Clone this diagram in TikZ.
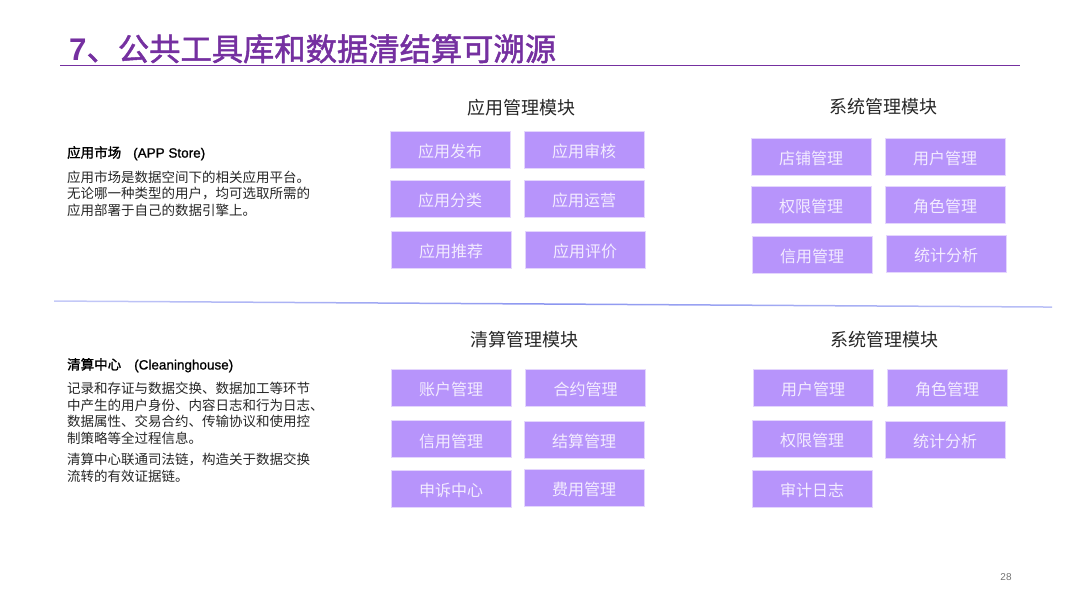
\documentclass[tikz,border=0pt]{standalone}
\usepackage{fontspec}
\setmainfont{Noto Sans CJK SC}
\newfontfamily\latinf{Liberation Sans}
\newfontfamily\titlef[FakeBold=1.6]{Noto Sans CJK SC}
\newfontfamily\headf[FakeBold=1.5]{Noto Sans CJK SC}
\newfontfamily\headlat[FakeBold=1]{Liberation Sans}
\definecolor{titlepurple}{HTML}{7530A0}
\definecolor{boxfill}{HTML}{B794FB}
\definecolor{boxedge}{HTML}{E4D6FD}
\definecolor{boxtext}{HTML}{F3ECFF}
\definecolor{darktext}{HTML}{262626}
\definecolor{divider}{HTML}{8C96F0}
\tikzset{
  modbox/.style={draw=boxedge,line width=0.8pt,fill=boxfill,text=boxtext,minimum width=120pt,minimum height=37pt,inner sep=0pt,text height=16pt,text depth=0pt,font=\fontsize{16}{16}\selectfont,anchor=center},
  modtitle/.style={text=darktext,inner sep=0pt,font=\fontsize{18}{18}\selectfont,anchor=center},
  bodytext/.style={text=darktext,inner sep=0pt,anchor=north west,align=left,font=\fontsize{13.5}{16.6}\selectfont},
  headtext/.style={text=black,inner sep=0pt,anchor=west,font=\fontsize{13.5}{16}\selectfont\headf}
}
\begin{document}
\begin{tikzpicture}[x=1pt,y=-1pt]
\useasboundingbox (0,0) rectangle (1080,608);
\node[inner sep=0pt,anchor=west,text=titlepurple,font=\fontsize{31.3}{32}\selectfont\titlef] (title) at (69,48.7) {{\latinf\bfseries 7}、公共工具库和数据清结算可溯源};
\coordinate (ruleL) at (60,65.8);
\coordinate (ruleR) at (1020,65.8);
\draw[titlepurple,line width=1pt] (ruleL) -- (ruleR);
\shade[left color=divider!50,right color=divider!60,middle color=divider] (54,300.3) -- (1052,306.3) -- (1052,307.8) -- (54,301.8) -- cycle;
% left column
\node[headtext] (h1) at (67,153.3) {应用市场\hspace{12pt}{\headlat (APP Store)}};
\node[bodytext] (b1) at (67,170.5) {应用市场是数据空间下的相关应用平台。\\无论哪一种类型的用户，均可选取所需的\\应用部署于自己的数据引擎上。};
\node[headtext] (h2) at (67,365.2) {清算中心\hspace{13pt}{\headlat (Cleaninghouse)}};
\node[bodytext] (b2) at (67,381.8) {记录和存证与数据交换、数据加工等环节\\中产生的用户身份、内容日志和行为日志、\\数据属性、交易合约、传输协议和使用控\\制策略等全过程信息。};
\node[bodytext] (b3) at (67,453) {清算中心联通司法链，构造关于数据交换\\流转的有效证据链。};
% module titles
\node[modtitle] (t1) at (521,108) {应用管理模块};
\node[modtitle] (t2) at (883.5,107) {系统管理模块};
\node[modtitle] (t3) at (524,340) {清算管理模块};
\node[modtitle] (t4) at (884.5,340) {系统管理模块};
% app management
\node[modbox] (a1) at (450,149.5) {应用发布};
\node[modbox] (a2) at (584,149.5) {应用审核};
\node[modbox] (a3) at (450,198.5) {应用分类};
\node[modbox] (a4) at (584,198.5) {应用运营};
\node[modbox] (a5) at (451,249.5) {应用推荐};
\node[modbox] (a6) at (585,249.5) {应用评价};
% system management, top
\node[modbox] (s1) at (811,156.5) {店铺管理};
\node[modbox] (s2) at (945,156.5) {用户管理};
\node[modbox] (s3) at (811,204.5) {权限管理};
\node[modbox] (s4) at (945,204.5) {角色管理};
\node[modbox] (s5) at (812,254.5) {信用管理};
\node[modbox] (s6) at (946,253.5) {统计分析};
% clearing management
\node[modbox] (c1) at (451,387.5) {账户管理};
\node[modbox] (c2) at (585.5,387.5) {合约管理};
\node[modbox] (c3) at (451,439) {信用管理};
\node[modbox] (c4) at (584,439.5) {结算管理};
\node[modbox] (c5) at (451,488.5) {申诉中心};
\node[modbox] (c6) at (584,487.5) {费用管理};
% system management, bottom
\node[modbox] (d1) at (813,387.5) {用户管理};
\node[modbox] (d2) at (947,387.5) {角色管理};
\node[modbox] (d3) at (812,438.5) {权限管理};
\node[modbox] (d4) at (945,439.5) {统计分析};
\node[modbox] (d5) at (812,488.5) {审计日志};
\node[inner sep=0pt,text=black!55,font=\latinf\fontsize{10}{10}\selectfont] (pg) at (1006,577) {28};
\end{tikzpicture}
\end{document}
